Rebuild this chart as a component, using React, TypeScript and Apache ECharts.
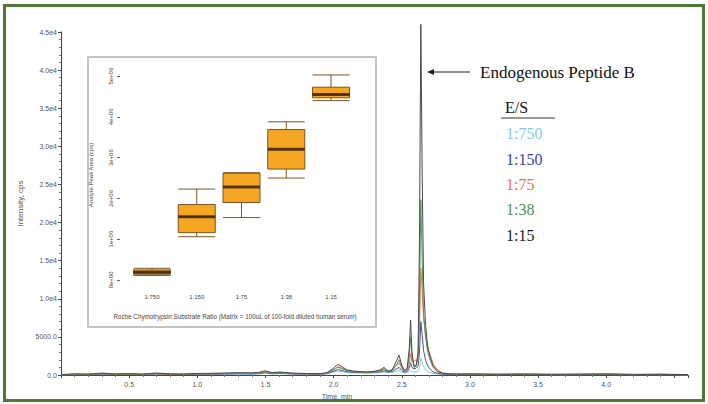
import React, { useEffect, useRef } from "react";
import * as echarts from "echarts";

// Chromatogram (main chart) — retention time, min
const times = [
  0.0, 0.1, 0.2, 0.3, 0.4, 0.5, 0.6, 0.7, 0.8, 0.9,
  1.0, 1.1, 1.2, 1.3, 1.4, 1.45, 1.5, 1.55, 1.6, 1.65,
  1.7, 1.8, 1.9, 1.95, 2.0, 2.03, 2.06, 2.1, 2.15, 2.2,
  2.25, 2.3, 2.34, 2.37, 2.4, 2.43, 2.46, 2.48, 2.5, 2.52,
  2.54, 2.555, 2.565, 2.575, 2.59, 2.605, 2.62, 2.63, 2.64, 2.65,
  2.66, 2.675, 2.69, 2.71, 2.73, 2.76, 2.8, 2.85, 2.9, 3.0,
  3.2, 3.4, 3.6, 3.8, 4.0, 4.2, 4.4, 4.6,
];

// Intensity, cps — one array per E/S ratio
const es750 = [
  30, 60, 50, 90, 60, 70, 50, 100, 60, 60,
  80, 90, 100, 120, 110, 140, 220, 140, 170, 140,
  110, 90, 80, 140, 380, 500, 450, 320, 280, 260,
  240, 280, 300, 400, 300, 350, 500, 600, 400, 280,
  320, 450, 600, 450, 380, 400, 500, 1000, 2200, 1700,
  1100, 700, 450, 320, 220, 130, 80, 60, 50, 60,
  50, 60, 40, 50, 60, 40, 50, 30,
];
const es150 = [
  30, 70, 60, 120, 80, 90, 70, 130, 80, 70,
  110, 120, 140, 160, 150, 190, 300, 180, 230, 190,
  150, 120, 110, 180, 500, 700, 600, 420, 350, 320,
  300, 350, 400, 550, 380, 450, 800, 1000, 600, 350,
  450, 900, 1600, 1000, 800, 900, 1200, 3000, 7000, 5200,
  3200, 1900, 1200, 750, 420, 220, 120, 90, 80, 90,
  70, 80, 60, 70, 80, 50, 70, 30,
];
const es75 = [
  40, 90, 80, 150, 100, 110, 80, 170, 100, 90,
  140, 150, 180, 200, 190, 240, 380, 230, 300, 240,
  180, 150, 130, 220, 650, 1100, 900, 600, 450, 400,
  380, 450, 500, 700, 480, 650, 1200, 1600, 900, 450,
  600, 1400, 2800, 1700, 1800, 2000, 1800, 6000, 14000, 11000,
  7500, 5000, 3500, 2600, 1500, 700, 280, 150, 110, 100,
  80, 100, 70, 90, 100, 60, 80, 40,
];
const es38 = [
  50, 100, 90, 180, 110, 130, 90, 200, 120, 100,
  160, 180, 200, 240, 230, 280, 420, 260, 320, 270,
  200, 170, 150, 250, 700, 1000, 850, 550, 420, 380,
  350, 420, 550, 800, 450, 600, 1300, 2000, 1000, 500,
  700, 2500, 5000, 2300, 1300, 1200, 2200, 10000, 23000, 15000,
  8000, 5000, 3000, 1900, 1000, 450, 200, 130, 100, 120,
  90, 110, 80, 100, 120, 70, 90, 50,
];
const es15 = [
  60, 150, 120, 250, 140, 180, 120, 260, 150, 130,
  200, 220, 260, 300, 280, 350, 550, 300, 400, 320,
  250, 200, 180, 300, 900, 1400, 1100, 650, 500, 450,
  400, 500, 650, 1000, 500, 700, 1800, 2600, 1300, 600,
  900, 3500, 7200, 3000, 1000, 1200, 3000, 18000, 46000, 26000,
  12000, 6500, 3800, 2200, 1200, 500, 220, 150, 120, 150,
  100, 130, 90, 110, 140, 80, 100, 60,
];

const seriesNames = ["1:750", "1:150", "1:75", "1:38", "1:15"];
const seriesValues = [es750, es150, es75, es38, es15];
const seriesColors = ["#86cdd6", "#4b4b9e", "#e8794a", "#5a9a5a", "#4a4a4a"];
const legendColors = ["#86cdd6", "#3f3f93", "#e8744a", "#4f8f55", "#1a1a1a"];

// Inset box plot — analyte peak area (cps)
const ratios = ["1:750", "1:150", "1:75", "1:38", "1:15"];
const boxLow = [110000, 1060000, 1530000, 2500000, 4400000];
const boxQ1 = [140000, 1160000, 1900000, 2720000, 4470000];
const boxMedian = [190000, 1550000, 2280000, 3210000, 4550000];
const boxQ3 = [245000, 1850000, 2620000, 3690000, 4730000];
const boxHigh = [285000, 2230000, 2630000, 3880000, 5030000];
const insetTicks = [0, 1000000, 2000000, 3000000, 4000000, 5000000];

const mainYFormat = (v: number) => {
  if (v === 0) return "0.0";
  if (v < 10000) return v.toFixed(1);
  return (v / 10000).toFixed(1) + "e4";
};

export default function App() {
  const ref = useRef<HTMLDivElement>(null);
  useEffect(() => {
    if (!ref.current) return;
    const chart = echarts.init(ref.current, undefined, { renderer: "svg" });
    const axisFont = "Liberation Sans";
    const serif = "Liberation Serif";

    const lineSeries = seriesValues.map((vals, i) => ({
      name: seriesNames[i],
      type: "line",
      xAxisIndex: 0,
      yAxisIndex: 0,
      data: times.map((t, j) => [t, vals[j]]),
      showSymbol: false,
      clip: false,
      lineStyle: { width: 1, color: seriesColors[i] },
      itemStyle: { color: seriesColors[i] },
      z: 2 + i,
    }));

    const legendY = [133, 159, 184, 209, 235];

    const option: any = {
      animation: false,
      backgroundColor: "#ffffff",
      grid: [
        { left: 61, right: 20, top: 32, bottom: 29 },
        {
          left: 120, top: 66, width: 244, height: 218, show: true,
          borderColor: "#666", borderWidth: 1, backgroundColor: "rgba(0,0,0,0)",
        },
        { left: 129.6, top: 66, width: 223.8, height: 218 },
      ],
      xAxis: [
        {
          type: "value", gridIndex: 0, min: 0, max: 4.6, interval: 0.5,
          axisLine: { lineStyle: { color: "#444", width: 1 } },
          axisTick: { length: 3, lineStyle: { color: "#444" } },
          minorTick: { show: true, splitNumber: 5, length: 2, lineStyle: { color: "#777" } },
          splitLine: { show: false },
          axisLabel: {
            fontSize: 7, color: "#555", fontFamily: axisFont, margin: 6,
            formatter: (v: number) => (v <= 0 || v > 4.01 ? "" : v.toFixed(1)),
          },
        },
        { type: "value", gridIndex: 1, min: 0, max: 1, show: false },
        {
          type: "category", gridIndex: 2, data: ratios,
          axisLine: { show: false },
          axisTick: { alignWithLabel: true, length: 4, lineStyle: { color: "#666" } },
          axisLabel: { fontSize: 6, color: "#444", fontFamily: axisFont, margin: 10 },
        },
      ],
      yAxis: [
        {
          type: "value", gridIndex: 0, min: 0, max: 45000, interval: 5000,
          name: "Intensity, cps", nameLocation: "middle", nameGap: 33,
          nameTextStyle: { fontSize: 8, color: "#555", fontFamily: axisFont },
          axisLine: { show: true, lineStyle: { color: "#444", width: 1 } },
          axisTick: { show: true, length: 3, lineStyle: { color: "#444" } },
          minorTick: { show: true, splitNumber: 5, length: 2, lineStyle: { color: "#777" } },
          splitLine: { show: false },
          axisLabel: { fontSize: 7, color: "#555", fontFamily: axisFont, margin: 4, formatter: mainYFormat },
        },
        {
          type: "value", gridIndex: 1, min: -100000, max: 5250000,
          name: "Analyte Peak Area (cps)", nameLocation: "middle", nameGap: 26,
          nameTextStyle: { fontSize: 6, color: "#444", fontFamily: axisFont },
          axisLine: { show: false },
          axisTick: { show: true, length: 3, customValues: insetTicks, lineStyle: { color: "#666" } },
          splitLine: { show: false },
          axisLabel: {
            fontSize: 6, color: "#444", fontFamily: axisFont, rotate: 90, margin: 6,
            customValues: insetTicks,
            formatter: (v: number) => (v === 0 ? "0e+00" : `${Math.round(v / 1000000)}e+06`),
          },
        },
        { type: "value", gridIndex: 2, min: -100000, max: 5250000, show: false },
      ],
      series: [
        ...lineSeries,
        {
          type: "boxplot",
          xAxisIndex: 2,
          yAxisIndex: 2,
          boxWidth: [37, 37],
          data: ratios.map((_, i) => [boxLow[i], boxQ1[i], boxMedian[i], boxQ3[i], boxHigh[i]]),
          itemStyle: { color: "#f5a623", borderColor: "#7a5420", borderWidth: 1 },
          z: 10,
        },
        {
          type: "scatter",
          xAxisIndex: 2,
          yAxisIndex: 2,
          symbol: "rect",
          symbolSize: [37, 3],
          data: ratios.map((r, i) => [r, boxMedian[i]]),
          itemStyle: { color: "#3b1d06" },
          z: 11,
        },
      ],
      graphic: [
        {
          type: "rect", z: -1,
          shape: { x: 4.5, y: 5.5, width: 699, height: 395 },
          style: { fill: "none", stroke: "#4e7a35", lineWidth: 3 },
        },
        {
          type: "rect", z: 0,
          shape: { x: 88, y: 57, width: 288, height: 270 },
          style: { fill: "#ffffff", stroke: "#b0b0b0", lineWidth: 1.5 },
        },
        {
          type: "text", z: 20,
          style: {
            text: "Roche Chymotrypsin:Substrate Ratio (Matrix = 100uL of 100-fold diluted human serum)",
            x: 235, y: 316, align: "center", verticalAlign: "middle",
            fontSize: 6.3, fontFamily: axisFont, fill: "#444",
          },
        },
        {
          type: "text", z: 20,
          style: {
            text: "Time, min", x: 337, y: 396, align: "center", verticalAlign: "middle",
            fontSize: 7, fontFamily: axisFont, fill: "#555",
          },
        },
        {
          type: "line", z: 20,
          shape: { x1: 470, y1: 72, x2: 432, y2: 72 },
          style: { stroke: "#222", lineWidth: 1.2 },
        },
        {
          type: "polygon", z: 20,
          shape: { points: [[427, 72], [434, 69], [434, 75]] },
          style: { fill: "#222" },
        },
        {
          type: "text", z: 20,
          style: {
            text: "Endogenous Peptide B", x: 480, y: 72, align: "left", verticalAlign: "middle",
            fontSize: 17, fontFamily: serif, fill: "#111",
          },
        },
        {
          type: "text", z: 20,
          style: {
            text: "E/S", x: 505, y: 107, align: "left", verticalAlign: "middle",
            fontSize: 16, fontFamily: serif, fill: "#111",
          },
        },
        {
          type: "line", z: 20,
          shape: { x1: 501, y1: 118, x2: 555, y2: 118 },
          style: { stroke: "#333", lineWidth: 1.2 },
        },
        ...seriesNames.map((n, i) => ({
          type: "text", z: 20,
          style: {
            text: n, x: 506, y: legendY[i], align: "left", verticalAlign: "middle",
            fontSize: 16, fontFamily: serif, fill: legendColors[i],
          },
        })),
      ],
    };
    chart.setOption(option);
    return () => chart.dispose();
  }, []);
  return (
    <div
      ref={ref}
      style={{ position: "absolute", left: 0, top: 0, width: 708, height: 404 }}
    />
  );
}
